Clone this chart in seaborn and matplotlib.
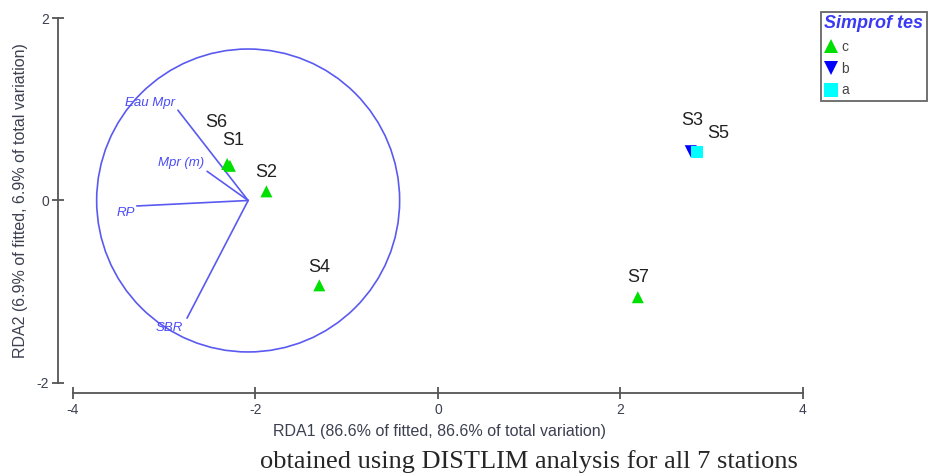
import numpy as np
import pandas as pd
import matplotlib
matplotlib.use("Agg")
import matplotlib.pyplot as plt
from matplotlib.patches import Circle
import seaborn as sns

# station scores on RDA1 / RDA2
stations = ["S6", "S1", "S2", "S4", "S7", "S3", "S5"]
rda1 = [-2.31, -2.28, -1.88, -1.30, 2.19, 2.77, 2.84]
rda2 = [0.40, 0.38, 0.10, -0.93, -1.06, 0.54, 0.53]
simprof = ["c", "c", "c", "c", "c", "b", "a"]
# label offsets (pixels) so overlapping stations stay readable
label_dx = [-11, 3, 0, 0, 0, 1, 21]
label_dy = [41, 25, 19, 18, 20, 31, 19]

# predictor vectors
vec_names = ["Eau Mpr", "Mpr (m)", "RP", "SBR"]
vec_x = [-2.85, -2.53, -3.30, -2.75]
vec_y = [0.99, 0.32, -0.06, -1.29]
vec_origin = (-2.08, 0.0)
circle_radius = 1.66

group_order = ["c", "b", "a"]
group_colors = {"c": "#00e000", "b": "#0000ff", "a": "#00ffff"}
group_markers = {"c": "^", "b": "v", "a": "s"}
legend_title = "Simprof tes"

df = pd.DataFrame({"station": stations, "RDA1": rda1, "RDA2": rda2, "group": simprof})

sns.set_style("white")
plt.rcParams["font.family"] = ["Liberation Sans", "DejaVu Sans"]
plt.rcParams["axes.unicode_minus"] = False

fig = plt.figure(figsize=(9.29, 4.75), dpi=100)
ax = fig.add_axes([0.0624, 0.1726, 0.8216, 0.8087])

vcol = "#5a5af0"
ax.add_patch(Circle(vec_origin, circle_radius, fill=False, edgecolor=vcol, linewidth=1.2))
for name, vx, vy in zip(vec_names, vec_x, vec_y):
    ax.plot([vec_origin[0], vx], [vec_origin[1], vy], color=vcol, linewidth=1.2)

vec_text_dy = {"Eau Mpr": 7, "Mpr (m)": 8, "RP": -7, "SBR": -10}
vec_text_dx = {"Eau Mpr": -3, "Mpr (m)": -3, "RP": -2, "SBR": -4}
for name, vx, vy in zip(vec_names, vec_x, vec_y):
    ax.annotate(name, (vx, vy), xytext=(vec_text_dx[name] * 0.72, vec_text_dy[name] * 0.72),
                textcoords="offset points", ha="right", va="center",
                fontsize=9.5, style="italic", color="#4b4bf5")

sns.scatterplot(data=df, x="RDA1", y="RDA2", hue="group", style="group",
                hue_order=group_order, style_order=group_order,
                palette=group_colors, markers=group_markers,
                s=75, linewidth=0, ax=ax, zorder=3)

for st, x, y, dx, dy in zip(stations, rda1, rda2, label_dx, label_dy):
    ax.annotate(st, (x, y), xytext=(dx * 0.72, dy * 0.72), textcoords="offset points",
                ha="center", va="center", fontsize=13, color="#222222")

ax.set_xlim(-4.164, 4.2)
ax.set_ylim(-2.11, 2.1)

for side in ["top", "right"]:
    ax.spines[side].set_visible(False)
for side in ["left", "bottom"]:
    ax.spines[side].set_color("#555555")
    ax.spines[side].set_linewidth(1.3)
ax.spines["left"].set_bounds(-2, 2)
ax.spines["bottom"].set_bounds(-4, 4)

ax.set_xticks([-4, -2, 0, 2, 4])
ax.set_yticks([-2, 0, 2])
ax.tick_params(axis="both", bottom=True, left=True, direction="inout", length=9,
               width=1.3, color="#555555", labelsize=10, labelcolor="#3c4050")
ax.tick_params(axis="x", pad=3)
ax.tick_params(axis="y", pad=2)

ax.set_xlabel("RDA1 (86.6% of fitted, 86.6% of total variation)", fontsize=11.5,
              color="#3c4050", labelpad=5)
ax.set_ylabel("RDA2 (6.9% of fitted, 6.9% of total variation)", fontsize=11.5,
              color="#3c4050", labelpad=6)

handles, labels = ax.get_legend_handles_labels()
leg = ax.legend(handles, labels, title=legend_title, loc="upper left",
                bbox_to_anchor=(821 / 929, 1 - 12 / 475), bbox_transform=fig.transFigure,
                frameon=True, fancybox=False, framealpha=1, edgecolor="#666666",
                fontsize=10, borderpad=0.25, labelspacing=0.55, handletextpad=0.3,
                handlelength=0.9, borderaxespad=0, alignment="left", markerscale=1.1)
leg.get_frame().set_linewidth(1.3)
leg.get_title().set_color("#3a3af5")
leg.get_title().set_fontstyle("italic")
leg.get_title().set_fontweight("bold")
leg.get_title().set_fontsize(13)
for t in leg.get_texts():
    t.set_color("#444444")

fig.text(529 / 929, 1 - 462 / 475, "obtained using DISTLIM analysis for all 7 stations",
         ha="center", va="center", fontsize=19, family=["Liberation Serif", "DejaVu Serif"])

fig.savefig("out.png", dpi=100)
